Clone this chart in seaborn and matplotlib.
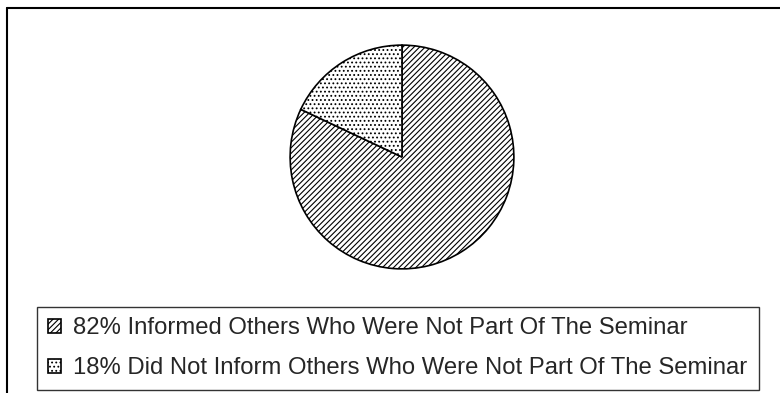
import matplotlib
matplotlib.use("Agg")
import matplotlib.pyplot as plt
from matplotlib.lines import Line2D
import seaborn as sns

labels = ["82% Informed Others Who Were Not Part Of The Seminar",
          "18% Did Not Inform Others Who Were Not Part Of The Seminar"]
values = [82, 18]
hatches = ["//////", "...."]

sns.set_theme(style="white")
plt.rcParams["font.family"] = ["Liberation Sans", "DejaVu Sans"]
plt.rcParams["hatch.linewidth"] = 0.8

W, H = 780, 393
fig = plt.figure(figsize=(W / 100, H / 100), dpi=100)
fig.patch.set_facecolor("white")

# outer frame (top and left edges visible)
fig.add_artist(Line2D([7 / W, 1], [1 - 8 / H, 1 - 8 / H], color="black", lw=1.5))
fig.add_artist(Line2D([7 / W, 7 / W], [0, 1 - 8 / H], color="black", lw=1.5))

cx, cy, r = 402, 157, 113
ax = fig.add_axes([(cx - r) / W, 1 - (cy + r) / H, 2 * r / W, 2 * r / H])
wedges, _ = ax.pie(values, startangle=90, counterclock=False,
                   colors=["white", "white"],
                   wedgeprops=dict(edgecolor="black", linewidth=1.2))
for w, h in zip(wedges, hatches):
    w.set_hatch(h)
ax.set_xlim(-1.01, 1.01)
ax.set_ylim(-1.01, 1.01)
ax.set_aspect("equal")
ax.axis("off")

leg = fig.legend(wedges, labels, loc="lower left",
                 bbox_to_anchor=(37 / W, 1 - 390 / H, (759 - 37) / W, (390 - 307) / H),
                 mode="expand", fontsize=17.2, frameon=True, fancybox=False,
                 edgecolor="black", handlelength=0.55, handleheight=0.55,
                 handletextpad=0.5, labelspacing=0.75, borderpad=0.45,
                 borderaxespad=0)
leg.get_frame().set_linewidth(1.0)

fig.savefig("out.png", dpi=100, facecolor="white")
